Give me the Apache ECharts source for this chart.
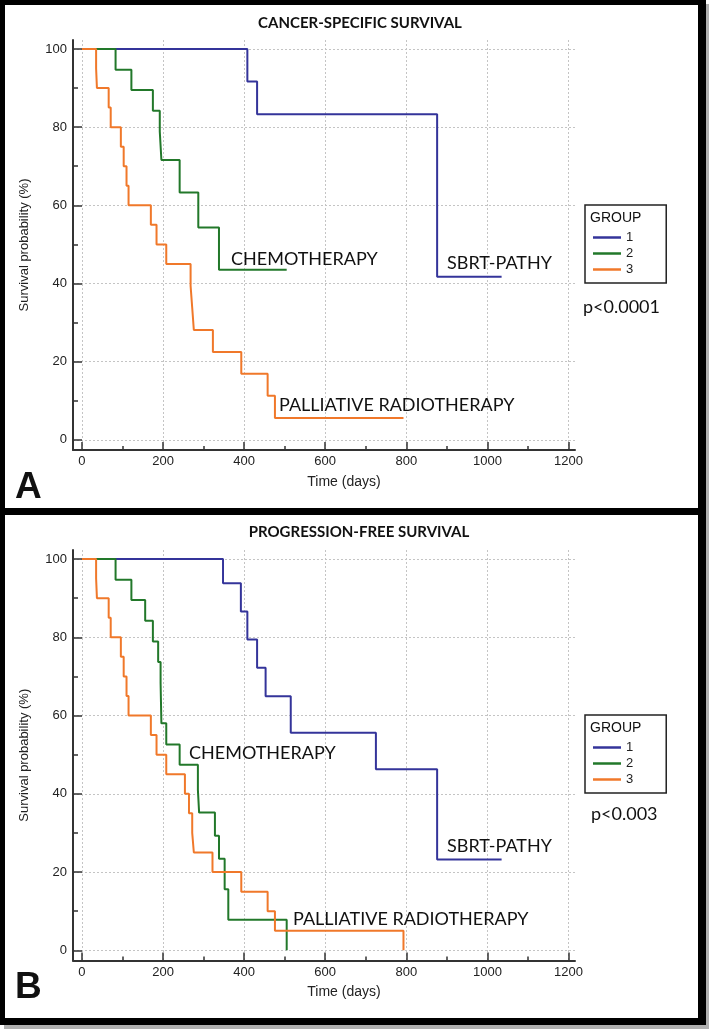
<!DOCTYPE html>
<html>
<head>
<meta charset="utf-8">
<script src="https://cdn.jsdelivr.net/npm/echarts@6/dist/echarts.min.js"></script>
<style>
html, body { margin: 0; padding: 0; background: #fff; }
#main { width: 709px; height: 1029px; }
</style>
</head>
<body>
<div id="main"></div>
<script>
// tick values
var xMajor = [0, 200, 400, 600, 800, 1000, 1200];
var xMinor = [100, 300, 500, 700, 900, 1100];
var yMajor = [0, 20, 40, 60, 80, 100];
var yMinor = [10, 30, 50, 70, 90];
var groups = ['1', '2', '3'];

// A - cancer-specific survival (days, survival %)
var csTime1 = [0, 408, 432, 876, 1035];
var csSurv1 = [100, 91.7, 83.3, 41.7, 41.7];
var csTime2 = [0, 83, 122, 175, 192, 196, 241, 287, 338, 505];
var csSurv2 = [100, 94.7, 89.5, 84.2, 78.9, 71.6, 63.3, 54.3, 43.5, 43.5];
var csTime3 = [0, 35, 37, 66, 71, 96, 103, 110, 115, 170, 184, 208, 268, 272, 276, 323, 393, 458, 476, 793];
var csSurv3 = [100, 95, 90, 85, 80, 75, 70, 65, 60, 55, 50, 45, 39.4, 33.8, 28.1, 22.5, 16.9, 11.3, 5.6, 5.6];

// B - progression-free survival
var pfTime1 = [0, 348, 392, 408, 432, 453, 515, 725, 876, 1035];
var pfSurv1 = [100, 93.8, 86.6, 79.4, 72.2, 64.9, 55.6, 46.3, 23.2, 23.2];
var pfTime2 = [0, 83, 122, 156, 175, 188, 194, 196, 208, 241, 286, 289, 328, 338, 352, 361, 505];
var pfSurv2 = [100, 94.7, 89.5, 84.2, 78.9, 73.7, 68.4, 58, 52.6, 47.4, 41, 35.2, 29.3, 23.4, 15.6, 7.8, 0];
var pfTime3 = [0, 35, 37, 66, 71, 96, 103, 110, 115, 170, 184, 208, 254, 264, 272, 276, 322, 393, 458, 476, 793];
var pfSurv3 = [100, 95, 90, 85, 80, 75, 70, 65, 60, 55, 50, 45, 40, 35, 30, 25, 20, 15, 10, 5, 0];

var colors = ['#34349a', '#22782a', '#f0782a'];
var FONT = 'Liberation Sans';
var CAL = 'Lato';

var myChart = echarts.init(document.getElementById('main'));

function steps(t, s) {
	var d = [];
	for (var i = 0; i < t.length; i++) d.push([t[i], s[i]]);
	return d;
}

function km(idx, t, s, axisIdx) {
	return {
		name: groups[idx], type: 'line', step: 'end',
		xAxisIndex: axisIdx, yAxisIndex: axisIdx,
		data: steps(t, s), showSymbol: false, symbol: 'none',
		color: colors[idx],
		lineStyle: { width: 2, color: colors[idx] }
	};
}

var tickLine = { color: '#333', width: 1.5 };
var plain = function (v) { return String(v); };

function xAxes(g) {
	return [{
		type: 'value', gridIndex: g, position: 'bottom', min: -22, max: 1216,
		name: 'Time (days)', nameLocation: 'middle', nameGap: 25,
		nameTextStyle: { fontFamily: FONT, fontSize: 14, color: '#222', padding: [0, 0, 0, 40] },
		axisLine: { show: true, onZero: false, lineStyle: { color: '#333', width: 2 } },
		axisTick: { show: true, inside: true, length: 8, customValues: xMajor, lineStyle: tickLine },
		axisLabel: { customValues: xMajor, formatter: plain, margin: 5, fontSize: 13, color: '#222', fontFamily: FONT },
		splitLine: { show: true, lineStyle: { color: '#c4c4c4', type: [2, 2], width: 1 } }
	}, {
		type: 'value', gridIndex: g, position: 'bottom', min: -22, max: 1216,
		axisLine: { show: false, onZero: false },
		axisTick: { show: true, inside: true, length: 4, customValues: xMinor, lineStyle: tickLine },
		axisLabel: { show: false },
		splitLine: { show: false }
	}];
}

function yAxes(g) {
	return [{
		type: 'value', gridIndex: g, position: 'left', min: -2.6, max: 102.3,
		name: 'Survival probability (%)', nameLocation: 'middle', nameGap: 42,
		nameTextStyle: { fontFamily: FONT, fontSize: 13, color: '#222' },
		axisLine: { show: true, onZero: false, lineStyle: { color: '#333', width: 2 } },
		axisTick: { show: true, inside: true, length: 9, customValues: yMajor, lineStyle: tickLine },
		axisLabel: { customValues: yMajor, formatter: plain, margin: 6, fontSize: 13, color: '#222', fontFamily: FONT },
		splitLine: { show: true, lineStyle: { color: '#c4c4c4', type: [2, 2], width: 1 } }
	}, {
		type: 'value', gridIndex: g, position: 'left', min: -2.6, max: 102.3,
		axisLine: { show: false, onZero: false },
		axisTick: { show: true, inside: true, length: 5, customValues: yMinor, lineStyle: tickLine },
		axisLabel: { show: false },
		splitLine: { show: false }
	}];
}

function legendAt(top) {
	return {
		data: groups, orient: 'vertical', left: 585, top: top,
		padding: [26, 33, 7, 8], itemGap: 3, itemWidth: 28, itemHeight: 2.5,
		icon: 'rect', borderColor: '#222', borderWidth: 1.5,
		textStyle: { fontFamily: FONT, fontSize: 13, color: '#222' },
		selectedMode: false
	};
}

function txt(x, y, text, font, align) {
	return {
		type: 'text', x: x, y: y, z: 50,
		style: { text: text, font: font, fill: '#111', align: align || 'left', verticalAlign: 'middle' }
	};
}

function box(x, y, w, h, c) {
	return { type: 'rect', z: 100, shape: { x: x, y: y, width: w, height: h }, style: { fill: c } };
}

var labelFont = '18px ' + CAL;

var option = {
	backgroundColor: '#fff',
	animation: false,
	grid: [
		{ left: 73, right: 134, top: 40, bottom: 579 },
		{ left: 73, right: 134, top: 550, bottom: 68.5 }
	],
	xAxis: xAxes(0).concat(xAxes(1)),
	yAxis: yAxes(0).concat(yAxes(1)),
	legend: [legendAt(205), legendAt(715)],
	series: [
		km(0, csTime1, csSurv1, 0),
		km(1, csTime2, csSurv2, 0),
		km(2, csTime3, csSurv3, 0),
		km(0, pfTime1, pfSurv1, 2),
		km(1, pfTime2, pfSurv2, 2),
		km(2, pfTime3, pfSurv3, 2)
	],
	graphic: [
		txt(360, 23, 'CANCER-SPECIFIC SURVIVAL', 'bold 15px ' + CAL, 'center'),
		txt(359, 532, 'PROGRESSION-FREE SURVIVAL', 'bold 15px ' + CAL, 'center'),
		txt(231, 259, 'CHEMOTHERAPY', labelFont),
		txt(447, 263, 'SBRT-PATHY', labelFont),
		txt(279, 405, 'PALLIATIVE RADIOTHERAPY', labelFont),
		txt(583, 307, 'p<0.0001', labelFont),
		txt(189, 753, 'CHEMOTHERAPY', labelFont),
		txt(447, 846, 'SBRT-PATHY', labelFont),
		txt(293, 919, 'PALLIATIVE RADIOTHERAPY', labelFont),
		txt(591, 814, 'p<0.003', labelFont),
		txt(590, 218, 'GROUP', '14px ' + FONT),
		txt(590, 728, 'GROUP', '14px ' + FONT),
		txt(15, 488, 'A', 'bold 37px ' + FONT),
		txt(15, 988, 'B', 'bold 37px ' + FONT),
		// frame
		box(706, 4, 3, 1025, '#b0b0b0'),
		box(4, 1025, 705, 4, '#b0b0b0'),
		box(0, 0, 706, 5, '#000'),
		box(0, 0, 5, 1025, '#000'),
		box(698, 0, 8, 1025, '#000'),
		box(0, 1018, 706, 7, '#000'),
		box(0, 508, 706, 7, '#000')
	]
};

myChart.setOption(option);
</script>
</body>
</html>
